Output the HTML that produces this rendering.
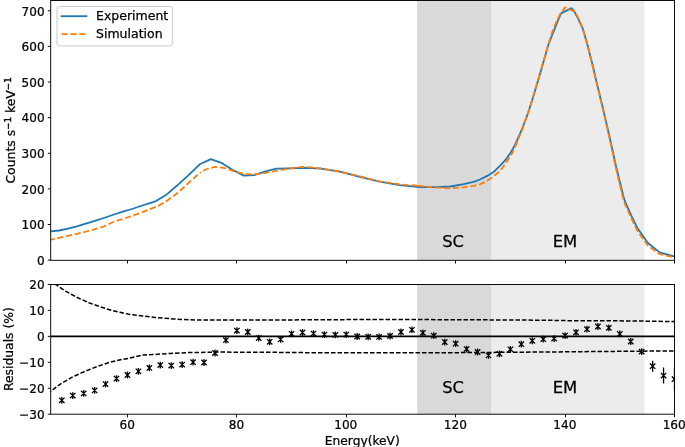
<!DOCTYPE html>
<html><head><meta charset="utf-8"><title>Spectrum</title>
<style>
html,body{margin:0;padding:0;background:#fff;width:685px;height:447px;overflow:hidden}
svg{display:block}
text{font-family:'DejaVu Sans', 'Liberation Sans', sans-serif;fill:#000;stroke:#000;stroke-width:0.25px}
</style></head><body>
<svg width="685" height="447" viewBox="0 0 685 447">
<defs>
<clipPath id="cT"><rect x="50.7" y="0.48" width="623.80" height="259.82"/></clipPath>
<clipPath id="cB"><rect x="50.7" y="284.5" width="623.80" height="129.70"/></clipPath>
</defs>
<rect width="685" height="447" fill="#fff"/>

<rect x="417.1" y="0.48" width="73.80" height="259.82" fill="#808080" fill-opacity="0.3"/>
<rect x="490.5" y="0.48" width="154.00" height="259.82" fill="#808080" fill-opacity="0.15"/>
<g clip-path="url(#cT)" fill="none" stroke-linejoin="round">
<path d="M49.00,231.50 L50.60,231.40 L59.00,230.50 L67.90,228.70 L76.90,226.30 L85.80,223.60 L94.80,220.90 L103.70,218.00 L114.00,214.50 L122.90,211.70 L131.90,209.00 L140.80,206.00 L149.80,203.20 L156.00,201.10 L166.80,194.40 L176.80,185.80 L188.00,175.70 L199.70,164.30 L210.90,159.10 L221.30,162.80 L232.00,169.50 L243.70,175.60 L254.20,175.10 L264.70,171.60 L276.40,168.70 L289.20,168.30 L306.70,167.80 L320.70,168.70 L340.00,171.60 L359.90,176.90 L379.70,181.60 L399.60,185.10 L419.40,187.10 L436.90,187.20 L450.30,186.50 L463.70,184.10 L474.50,181.60 L480.00,179.50 L487.20,175.90 L494.30,171.40 L500.60,165.10 L506.00,159.30 L510.40,153.10 L514.00,146.80 L516.20,142.40 L522.30,128.30 L528.30,112.20 L532.20,100.00 L540.10,73.80 L548.50,44.30 L554.40,29.50 L558.10,20.10 L561.10,13.40 L571.50,8.10 L574.20,11.40 L578.20,18.80 L582.90,28.90 L587.30,44.30 L593.10,66.90 L595.80,79.00 L603.00,108.50 L609.70,137.50 L616.10,166.50 L623.30,196.00 L625.00,201.40 L631.20,215.30 L637.20,227.70 L647.90,243.00 L659.70,252.40 L675.00,256.70" stroke="#1f77b4" stroke-width="1.8"/>
<path d="M49.00,239.90 L50.60,239.70 L59.00,237.90 L67.90,235.90 L76.90,233.80 L85.80,231.70 L94.80,229.20 L103.70,226.50 L114.00,221.70 L122.90,219.00 L131.90,215.90 L140.80,212.80 L149.80,209.20 L158.70,205.60 L166.70,200.90 L176.80,193.60 L188.00,183.50 L199.70,172.90 L200.00,172.74" stroke="#ff7f0e" stroke-width="1.8" stroke-dasharray="6.2 2.65" stroke-dashoffset="0.34"/>
<path d="M200.00,172.74 L207.00,169.00 L214.90,166.80 L225.00,168.10 L234.40,171.30 L244.90,174.20 L253.00,174.40 L262.40,173.40 L270.00,172.10 L276.40,170.80 L289.20,168.50 L302.00,166.90 L310.20,167.30 L320.70,168.50 L340.00,171.60 L359.90,176.40 L379.70,181.40 L399.60,184.30 L417.00,185.71" stroke="#ff7f0e" stroke-width="1.8" stroke-dasharray="6.2 2.65" stroke-dashoffset="5.30"/>
<path d="M417.00,185.71 L419.40,185.90 L436.90,187.70 L450.30,188.40 L463.70,187.30 L474.50,185.70 L480.00,184.40 L485.40,181.70 L492.50,177.20 L497.90,172.80 L502.40,167.80 L506.90,161.60 L511.30,154.80 L514.50,148.60 L516.20,144.40 L522.30,129.30 L528.30,112.20 L532.20,100.00 L540.00,73.05" stroke="#ff7f0e" stroke-width="1.8" stroke-dasharray="6.2 2.65" stroke-dashoffset="8.36"/>
<path d="M540.00,73.05 L540.10,72.70 L549.00,42.30 L553.00,29.50 L555.40,24.20 L558.70,16.80 L560.70,12.80 L563.10,10.10 L565.10,7.40 L569.50,9.40 L574.20,11.40 L576.80,14.80 L578.90,19.50 L581.50,25.50 L582.90,28.90 L587.30,44.30 L598.20,89.50 L603.00,109.50 L609.70,139.00 L616.10,169.00 L623.30,199.00 L625.00,204.20 L631.20,218.00 L637.20,230.50 L647.90,245.80 L659.70,254.10 L675.00,257.60" stroke="#ff7f0e" stroke-width="1.8" stroke-dasharray="6.2 2.65" stroke-dashoffset="4.77"/>
</g>
<text transform="translate(442.2,246.6) scale(1.0,1)" font-size="16.3px">SC</text>
<text transform="translate(552.7,246.6) scale(1.01,1)" font-size="16.3px">EM</text>
<rect x="57.0" y="6.5" width="115.4" height="39.4" rx="2.5" fill="#fff" fill-opacity="0.8" stroke="#cccccc" stroke-width="1"/>
<line x1="61.6" y1="16.2" x2="86.4" y2="16.2" stroke="#1f77b4" stroke-width="1.8" stroke-linecap="square"/>
<line x1="61.6" y1="34.2" x2="86.4" y2="34.2" stroke="#ff7f0e" stroke-width="1.8" stroke-dasharray="6.2 2.65"/>
<text x="96" y="20.3" font-size="12.5px">Experiment</text>
<text x="96" y="38.3" font-size="12.5px">Simulation</text>
<g stroke="#000" stroke-width="0.95" fill="none">
<rect x="50.7" y="0.48" width="623.80" height="259.82"/>
<line x1="47.80" y1="260.12" x2="50.7" y2="260.12"/>
<line x1="47.80" y1="224.50" x2="50.7" y2="224.50"/>
<line x1="47.80" y1="188.89" x2="50.7" y2="188.89"/>
<line x1="47.80" y1="153.27" x2="50.7" y2="153.27"/>
<line x1="47.80" y1="117.65" x2="50.7" y2="117.65"/>
<line x1="47.80" y1="82.04" x2="50.7" y2="82.04"/>
<line x1="47.80" y1="46.42" x2="50.7" y2="46.42"/>
<line x1="47.80" y1="10.80" x2="50.7" y2="10.80"/>
<line x1="127.50" y1="260.3" x2="127.50" y2="263.5"/>
<line x1="236.50" y1="260.3" x2="236.50" y2="263.5"/>
<line x1="346.50" y1="260.3" x2="346.50" y2="263.5"/>
<line x1="455.50" y1="260.3" x2="455.50" y2="263.5"/>
<line x1="565.50" y1="260.3" x2="565.50" y2="263.5"/>
<line x1="674.50" y1="260.3" x2="674.50" y2="263.5"/>
</g>
<text transform="translate(44.6,264.87) scale(0.946,1)" font-size="12.75px" text-anchor="end">0</text>
<text transform="translate(44.6,229.25) scale(0.946,1)" font-size="12.75px" text-anchor="end">100</text>
<text transform="translate(44.6,193.64) scale(0.946,1)" font-size="12.75px" text-anchor="end">200</text>
<text transform="translate(44.6,158.02) scale(0.946,1)" font-size="12.75px" text-anchor="end">300</text>
<text transform="translate(44.6,122.40) scale(0.946,1)" font-size="12.75px" text-anchor="end">400</text>
<text transform="translate(44.6,86.79) scale(0.946,1)" font-size="12.75px" text-anchor="end">500</text>
<text transform="translate(44.6,51.17) scale(0.946,1)" font-size="12.75px" text-anchor="end">600</text>
<text transform="translate(44.6,15.55) scale(0.946,1)" font-size="12.75px" text-anchor="end">700</text>
<text transform="translate(15.3,130.45) rotate(-90) scale(0.995,1)" font-size="12.5px" text-anchor="middle">Counts s<tspan font-size="8.75px" dy="-4.5" style="stroke-width:0.45px">−1</tspan><tspan dy="4.5"> keV</tspan><tspan font-size="8.75px" dy="-4.5" style="stroke-width:0.45px">−1</tspan></text>
<rect x="417.1" y="284.5" width="73.80" height="129.70" fill="#808080" fill-opacity="0.3"/>
<rect x="490.5" y="284.5" width="154.00" height="129.70" fill="#808080" fill-opacity="0.15"/>
<g clip-path="url(#cB)" fill="none">
<line x1="50.7" y1="336.36" x2="674.5" y2="336.36" stroke="#000" stroke-width="1.7"/>
<path d="M50.00,281.00 L55.60,284.30 L65.50,291.10 L77.20,297.50 L88.90,302.80 L100.60,306.90 L112.20,310.60 L120.00,312.30 L128.00,314.10 L137.50,315.40 L155.00,317.50 L172.60,318.90 L190.00,319.80 L207.60,320.10 L240.00,320.10 L280.00,320.00 L310.00,319.80 L350.00,319.60 L390.00,319.50 L430.00,319.60 L470.00,319.80 L520.00,320.00 L550.00,320.30 L570.00,320.70 L630.00,320.90 L675.00,321.60" stroke="#000" stroke-width="1.5" stroke-dasharray="4.54 1.96" stroke-dashoffset="1.26"/>
<path d="M50.60,391.90 L51.10,391.10 L60.30,384.10 L72.60,376.90 L84.90,371.40 L97.20,366.50 L109.50,362.40 L121.80,359.40 L128.00,358.50 L143.70,354.90 L152.00,354.60 L170.00,353.50 L188.00,352.60 L220.00,352.10 L260.00,352.20 L300.00,352.60 L340.00,352.80 L410.00,352.80 L450.00,352.70 L520.00,352.20 L560.00,351.90 L600.00,351.50 L675.00,350.90" stroke="#000" stroke-width="1.5" stroke-dasharray="4.54 1.96" stroke-dashoffset="3.66"/>
<g stroke="#000" stroke-width="1.3">
<path d="M61.80,396.90 V403.70 M59.10,397.60 L64.50,403.00 M59.10,403.00 L64.50,397.60"/>
<path d="M72.75,392.20 V399.00 M70.05,392.90 L75.45,398.30 M70.05,398.30 L75.45,392.90"/>
<path d="M83.69,390.00 V396.80 M80.99,390.70 L86.39,396.10 M80.99,396.10 L86.39,390.70"/>
<path d="M94.63,387.00 V393.80 M91.93,387.70 L97.33,393.10 M91.93,393.10 L97.33,387.70"/>
<path d="M105.57,380.70 V387.50 M102.87,381.40 L108.27,386.80 M102.87,386.80 L108.27,381.40"/>
<path d="M116.51,375.20 V382.00 M113.81,375.90 L119.21,381.30 M113.81,381.30 L119.21,375.90"/>
<path d="M127.45,371.60 V378.40 M124.75,372.30 L130.15,377.70 M124.75,377.70 L130.15,372.30"/>
<path d="M138.39,367.90 V374.70 M135.69,368.60 L141.09,374.00 M135.69,374.00 L141.09,368.60"/>
<path d="M149.33,364.50 V371.30 M146.63,365.20 L152.03,370.60 M146.63,370.60 L152.03,365.20"/>
<path d="M160.27,361.70 V368.50 M157.57,362.40 L162.97,367.80 M157.57,367.80 L162.97,362.40"/>
<path d="M171.21,362.20 V369.00 M168.51,362.90 L173.91,368.30 M168.51,368.30 L173.91,362.90"/>
<path d="M182.16,361.20 V368.00 M179.46,361.90 L184.85,367.30 M179.46,367.30 L184.85,361.90"/>
<path d="M193.10,358.80 V365.60 M190.40,359.50 L195.80,364.90 M190.40,364.90 L195.80,359.50"/>
<path d="M204.04,359.10 V365.90 M201.34,359.80 L206.74,365.20 M201.34,365.20 L206.74,359.80"/>
<path d="M214.98,349.60 V356.40 M212.28,350.30 L217.68,355.70 M212.28,355.70 L217.68,350.30"/>
<path d="M225.92,336.80 V343.60 M223.22,337.50 L228.62,342.90 M223.22,342.90 L228.62,337.50"/>
<path d="M236.86,327.20 V334.00 M234.16,327.90 L239.56,333.30 M234.16,333.30 L239.56,327.90"/>
<path d="M247.80,328.60 V335.40 M245.10,329.30 L250.50,334.70 M245.10,334.70 L250.50,329.30"/>
<path d="M258.74,334.70 V341.50 M256.04,335.40 L261.44,340.80 M256.04,340.80 L261.44,335.40"/>
<path d="M269.68,338.40 V345.20 M266.98,339.10 L272.38,344.50 M266.98,344.50 L272.38,339.10"/>
<path d="M280.62,336.00 V342.80 M277.92,336.70 L283.32,342.10 M277.92,342.10 L283.32,336.70"/>
<path d="M291.56,330.40 V337.20 M288.87,331.10 L294.26,336.50 M288.87,336.50 L294.26,331.10"/>
<path d="M302.51,329.10 V335.90 M299.81,329.80 L305.21,335.20 M299.81,335.20 L305.21,329.80"/>
<path d="M313.45,330.20 V337.00 M310.75,330.90 L316.15,336.30 M310.75,336.30 L316.15,330.90"/>
<path d="M324.39,331.20 V338.00 M321.69,331.90 L327.09,337.30 M321.69,337.30 L327.09,331.90"/>
<path d="M335.33,331.50 V338.30 M332.63,332.20 L338.03,337.60 M332.63,337.60 L338.03,332.20"/>
<path d="M346.27,331.20 V338.00 M343.57,331.90 L348.97,337.30 M343.57,337.30 L348.97,331.90"/>
<path d="M357.21,333.10 V339.90 M354.51,333.80 L359.91,339.20 M354.51,339.20 L359.91,333.80"/>
<path d="M368.15,333.40 V340.20 M365.45,334.10 L370.85,339.50 M365.45,339.50 L370.85,334.10"/>
<path d="M379.09,333.50 V340.30 M376.39,334.20 L381.79,339.60 M376.39,339.60 L381.79,334.20"/>
<path d="M390.03,332.60 V339.40 M387.33,333.30 L392.73,338.70 M387.33,338.70 L392.73,333.30"/>
<path d="M400.98,328.60 V335.40 M398.28,329.30 L403.68,334.70 M398.28,334.70 L403.68,329.30"/>
<path d="M411.92,326.40 V333.20 M409.22,327.10 L414.62,332.50 M409.22,332.50 L414.62,327.10"/>
<path d="M422.86,329.40 V336.20 M420.16,330.10 L425.56,335.50 M420.16,335.50 L425.56,330.10"/>
<path d="M433.80,332.30 V339.10 M431.10,333.00 L436.50,338.40 M431.10,338.40 L436.50,333.00"/>
<path d="M444.74,338.70 V345.50 M442.04,339.40 L447.44,344.80 M442.04,344.80 L447.44,339.40"/>
<path d="M455.68,340.30 V347.10 M452.98,341.00 L458.38,346.40 M452.98,346.40 L458.38,341.00"/>
<path d="M466.62,345.70 V352.50 M463.92,346.40 L469.32,351.80 M463.92,351.80 L469.32,346.40"/>
<path d="M477.56,348.60 V355.40 M474.86,349.30 L480.26,354.70 M474.86,354.70 L480.26,349.30"/>
<path d="M488.50,352.00 V358.80 M485.80,352.70 L491.20,358.10 M485.80,358.10 L491.20,352.70"/>
<path d="M499.44,350.40 V357.20 M496.74,351.10 L502.14,356.50 M496.74,356.50 L502.14,351.10"/>
<path d="M510.38,345.90 V352.70 M507.69,346.60 L513.09,352.00 M507.69,352.00 L513.09,346.60"/>
<path d="M521.33,340.80 V347.60 M518.63,341.50 L524.03,346.90 M518.63,346.90 L524.03,341.50"/>
<path d="M532.27,337.40 V344.20 M529.57,338.10 L534.97,343.50 M529.57,343.50 L534.97,338.10"/>
<path d="M543.21,335.80 V342.60 M540.51,336.50 L545.91,341.90 M540.51,341.90 L545.91,336.50"/>
<path d="M554.15,335.20 V342.00 M551.45,335.90 L556.85,341.30 M551.45,341.30 L556.85,335.90"/>
<path d="M565.09,332.20 V339.00 M562.39,332.90 L567.79,338.30 M562.39,338.30 L567.79,332.90"/>
<path d="M576.03,328.90 V335.70 M573.33,329.60 L578.73,335.00 M573.33,335.00 L578.73,329.60"/>
<path d="M586.97,325.80 V332.60 M584.27,326.50 L589.67,331.90 M584.27,331.90 L589.67,326.50"/>
<path d="M597.91,323.10 V329.90 M595.21,323.80 L600.61,329.20 M595.21,329.20 L600.61,323.80"/>
<path d="M608.85,324.40 V331.20 M606.15,325.10 L611.55,330.50 M606.15,330.50 L611.55,325.10"/>
<path d="M619.80,330.50 V337.30 M617.10,331.20 L622.50,336.60 M617.10,336.60 L622.50,331.20"/>
<path d="M630.74,338.10 V344.90 M628.04,338.80 L633.44,344.20 M628.04,344.20 L633.44,338.80"/>
<path d="M641.68,348.20 V355.00 M638.98,348.90 L644.38,354.30 M638.98,354.30 L644.38,348.90"/>
<path d="M652.62,360.70 V371.70 M649.92,363.50 L655.32,368.90 M649.92,368.90 L655.32,363.50"/>
<path d="M663.56,367.60 V383.60 M660.86,372.90 L666.26,378.30 M660.86,378.30 L666.26,372.90"/>
<path d="M674.50,367.40 V391.00 M671.80,376.50 L677.20,381.90 M671.80,381.90 L677.20,376.50"/>
</g></g>
<text transform="translate(442.2,392.6) scale(1.0,1)" font-size="16.3px">SC</text>
<text transform="translate(552.7,392.6) scale(1.01,1)" font-size="16.3px">EM</text>
<g stroke="#000" stroke-width="0.95" fill="none">
<rect x="50.7" y="284.5" width="623.80" height="129.70"/>
<line x1="47.80" y1="414.18" x2="50.7" y2="414.18"/>
<line x1="47.80" y1="388.24" x2="50.7" y2="388.24"/>
<line x1="47.80" y1="362.30" x2="50.7" y2="362.30"/>
<line x1="47.80" y1="336.36" x2="50.7" y2="336.36"/>
<line x1="47.80" y1="310.42" x2="50.7" y2="310.42"/>
<line x1="47.80" y1="284.48" x2="50.7" y2="284.48"/>
<line x1="127.50" y1="414.2" x2="127.50" y2="417.4"/>
<line x1="236.50" y1="414.2" x2="236.50" y2="417.4"/>
<line x1="346.50" y1="414.2" x2="346.50" y2="417.4"/>
<line x1="455.50" y1="414.2" x2="455.50" y2="417.4"/>
<line x1="565.50" y1="414.2" x2="565.50" y2="417.4"/>
<line x1="674.50" y1="414.2" x2="674.50" y2="417.4"/>
</g>
<text transform="translate(44.6,418.83) scale(0.946,1)" font-size="12.75px" text-anchor="end">−30</text>
<text transform="translate(44.6,392.89) scale(0.946,1)" font-size="12.75px" text-anchor="end">−20</text>
<text transform="translate(44.6,366.95) scale(0.946,1)" font-size="12.75px" text-anchor="end">−10</text>
<text transform="translate(44.6,341.01) scale(0.946,1)" font-size="12.75px" text-anchor="end">0</text>
<text transform="translate(44.6,315.07) scale(0.946,1)" font-size="12.75px" text-anchor="end">10</text>
<text transform="translate(44.6,289.13) scale(0.946,1)" font-size="12.75px" text-anchor="end">20</text>
<text transform="translate(127.15,429.25) scale(0.951,1)" font-size="12.75px" text-anchor="middle">60</text>
<text transform="translate(236.56,429.25) scale(0.951,1)" font-size="12.75px" text-anchor="middle">80</text>
<text transform="translate(345.77,429.25) scale(0.951,1)" font-size="12.75px" text-anchor="middle">100</text>
<text transform="translate(455.38,429.25) scale(0.951,1)" font-size="12.75px" text-anchor="middle">120</text>
<text transform="translate(564.79,429.25) scale(0.951,1)" font-size="12.75px" text-anchor="middle">140</text>
<text transform="translate(674.20,429.25) scale(0.951,1)" font-size="12.75px" text-anchor="middle">160</text>
<text transform="translate(362.3,444.5) scale(0.98,1)" font-size="12.5px" text-anchor="middle">Energy(keV)</text>
<text transform="translate(13.3,349.15) rotate(-90) scale(0.99,1)" font-size="12.5px" text-anchor="middle">Residuals (%)</text>
</svg></body></html>
